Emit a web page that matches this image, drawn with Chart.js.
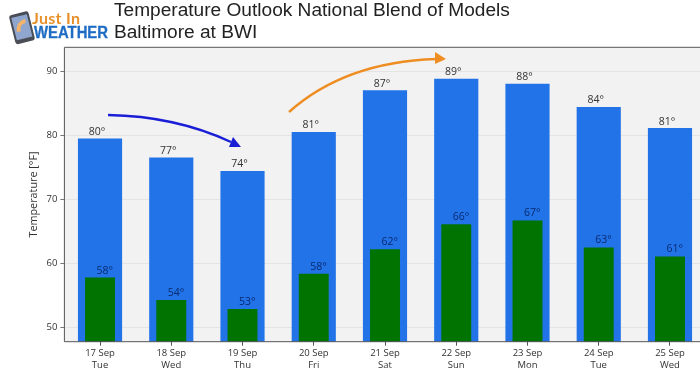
<!DOCTYPE html>
<html>
<head>
<meta charset="utf-8">
<style>
  html, body { margin: 0; padding: 0; background: #fff; width: 700px; height: 378px; overflow: hidden; }
  #wrap { position: relative; width: 700px; height: 378px; overflow: hidden; }
  #box { position: absolute; left: 0; top: 0; width: 720px; height: 378px; }
  #over { position: absolute; left: 0; top: 0; pointer-events: none; }
  .title { position: absolute; left: 114px; font: 19.1px "Liberation Sans", Arial, sans-serif; color: #222; white-space: nowrap; line-height: 22px; }
</style>
</head>
<body>
<div id="wrap">
  <div id="box"><canvas id="myChart"></canvas></div>
  <div class="title" style="top:-1px">Temperature Outlook National Blend of Models</div>
  <div class="title" style="top:21px">Baltimore at BWI</div>
  <svg id="over" width="700" height="378">
    <!-- logo -->
    <g transform="rotate(-14 21 28)">
      <rect x="12" y="13" width="20" height="30" rx="3" fill="#4a4d55"/>
      <rect x="14" y="16" width="16" height="23" fill="#8fa6cf"/>
      <path d="M16 31 Q17 21 27 20 L27 24 Q20 24 20 31 Z" fill="#f3b36b"/>
    </g>
    <text x="32" y="24" font-family="Lato, sans-serif" font-weight="700" font-size="16" fill="#e8902a" textLength="48">Just In</text>
    <text x="34" y="38" font-family="Liberation Sans, sans-serif" font-weight="700" font-size="16" fill="#1f6cc4" textLength="74" lengthAdjust="spacingAndGlyphs" stroke="#1f6cc4" stroke-width="0.3">WEATHER</text>
    <!-- arrows -->
    <path d="M108 115 Q175 116 231 142" fill="none" stroke="#1a1fd6" stroke-width="2.4"/>
    <path d="M233 137 L241 147 L229 147 Z" fill="#1a1fd6"/>
    <path d="M289 112 Q345 62 436 59" fill="none" stroke="#ee8e22" stroke-width="2.4"/>
    <path d="M435 52 L446 59 L435 64 Z" fill="#ee8e22"/>
  </svg>
</div>
<script src="https://cdn.jsdelivr.net/npm/chart.js@4"></script>
<script>
const dates = ["17 Sep", "18 Sep", "19 Sep", "20 Sep", "21 Sep", "22 Sep", "23 Sep", "24 Sep", "25 Sep"];
const days = ["Tue", "Wed", "Thu", "Fri", "Sat", "Sun", "Mon", "Tue", "Wed"];
const highs = [79.5, 76.5, 74.4, 80.5, 87.0, 88.8, 88.0, 84.4, 81.1];
const lows = [57.8, 54.3, 52.9, 58.4, 62.2, 66.1, 66.7, 62.5, 61.1];
const highLabels = ["80°", "77°", "74°", "81°", "87°", "89°", "88°", "84°", "81°"];
const lowLabels = ["58°", "54°", "53°", "58°", "62°", "66°", "67°", "63°", "61°"];
const yTicks = [50, 60, 70, 80, 90];

const font = '"Open Sans", sans-serif';

// plot background, spines and the text over the bars
const extras = {
    id: 'extras',
    beforeDraw(chart) {
        const a = chart.chartArea;
        const c = chart.ctx;
        c.save();
        c.fillStyle = '#f3f2f3';
        c.fillRect(a.left, a.top, a.width, a.height);
        c.restore();
    },
    afterDatasetsDraw(chart) {
        const a = chart.chartArea;
        const c = chart.ctx;
        c.save();
        c.strokeStyle = '#555';
        c.lineWidth = 1;
        c.beginPath();
        c.moveTo(a.left, a.bottom);
        c.lineTo(a.left, a.top);
        c.lineTo(a.right, a.top);
        c.moveTo(a.left, a.bottom);
        c.lineTo(a.right, a.bottom);
        c.stroke();

        c.font = '10.5px ' + font;
        c.textAlign = 'center';
        c.textBaseline = 'middle';
        const x = chart.scales.x;
        const y = chart.scales.y;
        dates.forEach((d, i) => {
            c.fillStyle = '#333';
            c.fillText(highLabels[i], x.getPixelForValue(i) - 3, y.getPixelForValue(highs[i]) - 6.6);
            c.fillStyle = '#0a2a70';
            c.fillText(lowLabels[i], x.getPixelForValue(i) + 4.7, y.getPixelForValue(lows[i]) - 7);
        });
        c.restore();
    }
};

new Chart(document.getElementById('myChart'), {
    type: 'bar',
    data: {
        labels: dates.map((d, i) => [d, days[i]]),
        datasets: [
            { data: lows, backgroundColor: '#007300', barPercentage: 0.42, categoryPercentage: 1, order: 1 },
            { data: highs, backgroundColor: '#2273e8', barPercentage: 0.62, categoryPercentage: 1, order: 2 }
        ]
    },
    options: {
        responsive: true,
        maintainAspectRatio: false,
        animation: false,
        layout: { padding: { top: 47.3, right: 14.4, bottom: 0, left: 0 } },
        datasets: { bar: { grouped: false } },
        plugins: { legend: { display: false }, tooltip: { enabled: false } },
        scales: {
            x: {
                grid: { offset: false, drawOnChartArea: false, tickColor: '#555', tickLength: 4 },
                border: { display: false },
                ticks: { color: '#333', font: { family: font, size: 9.5, lineHeight: 1.2 }, maxRotation: 0, padding: 2 },
                afterFit: (s) => { s.height = 36.3; }
            },
            y: {
                min: 47.8,
                max: 93.7,
                afterBuildTicks: (s) => { s.ticks = yTicks.map(v => ({ value: v })); },
                grid: { color: '#e5e4e5', tickColor: '#777', tickLength: 4 },
                border: { display: false },
                ticks: { color: '#333', font: { family: font, size: 9.5 }, padding: 3 },
                title: { display: true, text: 'Temperature [°F]', color: '#333', font: { family: font, size: 10.8 }, padding: { top: 27, bottom: 0 } },
                afterFit: (s) => { s.width = 64.4; }
            }
        }
    },
    plugins: [extras]
});
</script>
</body>
</html>
